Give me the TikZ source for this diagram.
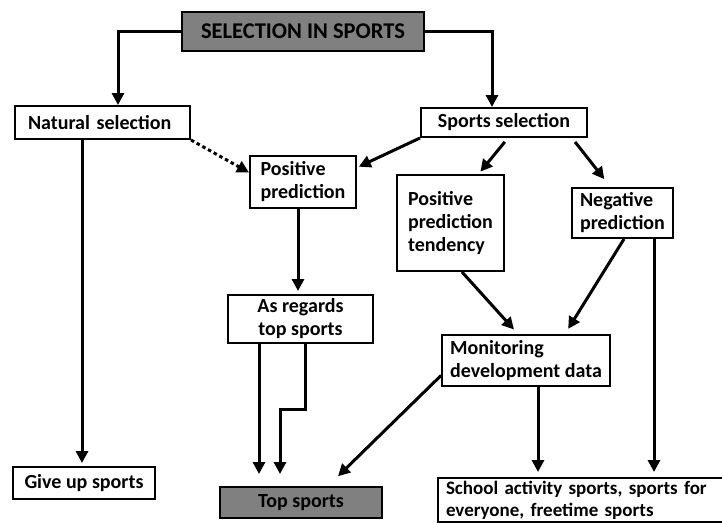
\documentclass[tikz,border=0pt]{standalone}
\usepackage{fontspec}
\setmainfont{Carlito}
\usetikzlibrary{arrows.meta}
\tikzset{every picture/.style={line width=2pt}}

\begin{document}
\begin{tikzpicture}[x=1pt,y=1pt,yscale=-1,xscale=1,
  box/.style={draw, fill=white, inner sep=0pt, align=left, font=\bfseries\fontsize{20}{23}\selectfont},
  greybox/.style={box, fill={rgb,255:red,128;green,128;blue,128}},
  arr/.style={line width=3pt, -{Triangle[length=12pt,width=12pt]}}]
\useasboundingbox (0,0) rectangle (722,522); %set diagram size 722 x 522

% Text Node
\node[greybox, minimum width=242, minimum height=39, font=\bfseries\fontsize{22.5}{26}\selectfont] (title) at (303,31.5) {SELECTION IN SPORTS};
% Text Node
\node[box, inner xsep=13, text width=149, minimum height=33] (nat) at (102.5,122.5) {Natural selection};
% Text Node
\node[box, minimum width=166, minimum height=29] (spsel) at (504,122.5) {Sports selection};
% Text Node
\node[box, minimum width=106, minimum height=52] (pospred) at (303,182) {Positive\\prediction};
% Text Node
\node[box, minimum width=107, minimum height=96] (ppt) at (450.5,223) {Positive\\prediction\\tendency};
% Text Node
\node[box, minimum width=101, minimum height=50] (neg) at (622.5,213) {Negative\\prediction};
% Text Node
\node[box, align=center, minimum width=145, minimum height=48] (asreg) at (300.5,319) {As regards\\top sports};
% Text Node
\node[box, minimum width=168, minimum height=51] (mon) at (526,360.5) {Monitoring\\development data};
% Text Node
\node[box, minimum width=142, minimum height=32] (give) at (84,483) {Give up sports};
% Text Node
\node[greybox, align=center, minimum width=162, minimum height=31] (top) at (301,502.5) {Top sports};
% Text Node
\node[box, anchor=north west, inner xsep=8, inner ysep=3, text width=290, font=\bfseries\fontsize{19}{22}\selectfont] (school) at (437,477) {School activity sports, sports for\\everyone, freetime sports};

%Straight Lines
\draw[arr] (title.west) -| ([xshift=15.5]nat.north);
\draw[arr] (title.east) -| ([xshift=-12]spsel.north);
%Straight Lines (dotted)
\draw[arr, dash pattern=on 3.5pt off 3pt] (nat.south east) -- (pospred.170);
%Straight Lines
\draw[arr, shorten >=2] (spsel.south west) -- (pospred.15);
\draw[arr, shorten <=5, shorten >=3] ([xshift=4]spsel.south) -- ([xshift=28]ppt.north);
\draw[arr, shorten <=5, shorten >=10] ([xshift=68]spsel.south) -- ([xshift=-12]neg.north);
\draw[arr, shorten >=3] ([xshift=-5]pospred.south) -- ([xshift=-2.5]asreg.north);
\draw[arr, shorten >=3] ([xshift=-20.5]nat.south) -- ([xshift=-2]give.north);
%Straight Lines
\draw[arr, shorten >=12] ([xshift=-41.5]asreg.south) -- ([xshift=-42]top.north);
\draw[arr, shorten >=12] ([xshift=4.5]asreg.south) -- ++(0,65) -| ([xshift=-21]top.north);
%Straight Lines
\draw[arr, shorten >=6] ([xshift=11.5]ppt.south) -- ([xshift=-8]mon.north);
\draw[arr, shorten >=6] ([xshift=1.5]neg.south) -- ([xshift=39]mon.north);
\draw[arr, shorten >=5] ([xshift=31.5]neg.south) -- ([xshift=217]school.north west);
\draw[arr, shorten >=5] ([xshift=12]mon.south) -- ([xshift=101]school.north west);
\draw[arr, shorten >=14] (mon.190) -- ([xshift=27]top.north);

\end{tikzpicture}
\end{document}
